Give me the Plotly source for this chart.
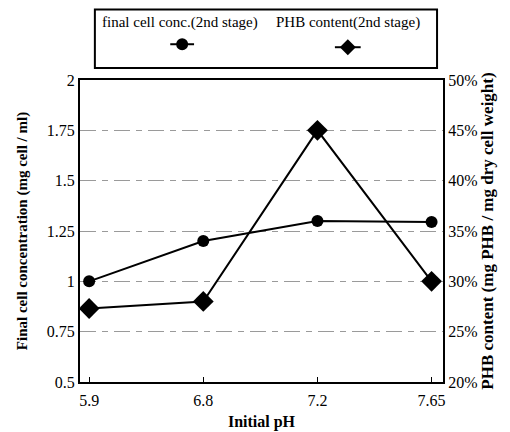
import plotly.graph_objects as go

ph_labels = ["5.9", "6.8", "7.2", "7.65"]
cell_conc = [1.0, 1.2, 1.3, 1.295]
phb_content = [27.3, 28.0, 45.0, 30.0]

left_ticks = [0.5, 0.75, 1.0, 1.25, 1.5, 1.75, 2.0]
left_tick_text = ["0.5", "0.75", "1", "1.25", "1.5", "1.75", "2"]
right_ticks = [20, 25, 30, 35, 40, 45, 50]
right_tick_text = ["20%", "25%", "30%", "35%", "40%", "45%", "50%"]

legend_names = ["final cell conc.(2nd stage)", "PHB content(2nd stage)"]

FONT = "Liberation Serif"
OFF = 8  # page body margin
W, H = 510, 432
# plot area in screen pixels
SX0, SX1, SY0, SY1 = 77, 443, 80, 384
L, R = SX0 - OFF, W - (SX1 - OFF)
T, B = SY0 - OFF, H - (SY1 - OFF)
PW, PH = W - L - R, H - T - B


def px_x(x):
    return (x - OFF - L) / PW


def px_y(y):
    return (H - B - (y - OFF)) / PH


fig = go.Figure()
fig.add_trace(go.Scatter(
    x=ph_labels, y=cell_conc, mode="lines+markers", name=legend_names[0],
    line=dict(color="black", width=2),
    marker=dict(symbol="circle", size=12, color="black"),
    showlegend=False, yaxis="y",
))
fig.add_trace(go.Scatter(
    x=ph_labels, y=phb_content, mode="lines+markers", name=legend_names[1],
    line=dict(color="black", width=2),
    marker=dict(symbol="diamond", size=16, color="black"),
    showlegend=False, yaxis="y2",
))

grid = dict(gridcolor="#9a9a9a", gridwidth=1, griddash="16px,6px,6px,6px")

fig.update_layout(
    width=W, height=H,
    margin=dict(l=L, r=R, t=T, b=B),
    plot_bgcolor="white", paper_bgcolor="white",
    font=dict(family=FONT, size=16, color="black"),
    xaxis=dict(
        type="category", range=[-0.08, 3.1],
        showline=True, linecolor="black", linewidth=2, mirror=True,
        ticks="inside", ticklen=5, tickcolor="black",
        ticklabelstandoff=3,
        showgrid=False, zeroline=False,
        tickfont=dict(family=FONT, size=16),
        title=dict(text="<b>Initial pH</b>", font=dict(family=FONT, size=16), standoff=8),
    ),
    yaxis=dict(
        range=[0.5, 2.0], tickvals=left_ticks, ticktext=left_tick_text,
        showline=True, linecolor="black", linewidth=2,
        ticks="", zeroline=False, showgrid=True, **grid,
        tickfont=dict(family=FONT, size=16),
        title=dict(text="<b>Final cell concentration (mg cell / ml)</b>",
                   font=dict(family=FONT, size=15), standoff=16),
    ),
    yaxis2=dict(
        overlaying="y", side="right", range=[20, 50],
        tickvals=right_ticks, ticktext=right_tick_text,
        showline=True, linecolor="black", linewidth=2,
        ticks="", zeroline=False, showgrid=False,
        tickfont=dict(family=FONT, size=16),
        title=dict(text="<b>PHB content (mg PHB / mg dry cell weight)</b>",
                   font=dict(family=FONT, size=17), standoff=5),
    ),
)

# custom legend box (text above, symbol below)
shapes = [
    dict(type="rect", xref="paper", yref="paper",
         x0=px_x(92), x1=px_x(437), y0=px_y(68), y1=px_y(9),
         line=dict(color="black", width=2), fillcolor="white"),
    dict(type="line", xref="paper", yref="paper",
         x0=px_x(168), x1=px_x(192), y0=px_y(44), y1=px_y(44),
         line=dict(color="black", width=2)),
    dict(type="circle", xref="paper", yref="paper",
         xsizemode="pixel", ysizemode="pixel",
         xanchor=px_x(180), yanchor=px_y(44),
         x0=-6, x1=6, y0=-6, y1=6,
         fillcolor="black", line=dict(color="black", width=0)),
    dict(type="line", xref="paper", yref="paper",
         x0=px_x(334), x1=px_x(360), y0=px_y(47), y1=px_y(47),
         line=dict(color="black", width=2)),
    dict(type="path", xref="paper", yref="paper",
         xsizemode="pixel", ysizemode="pixel",
         xanchor=px_x(347), yanchor=px_y(47),
         path="M -8 0 L 0 8 L 8 0 L 0 -8 Z",
         fillcolor="black", line=dict(color="black", width=0)),
]
fig.update_layout(shapes=shapes)

fig.add_annotation(text=legend_names[0], xref="paper", yref="paper",
                   x=px_x(178), y=px_y(22), showarrow=False,
                   xanchor="center", yanchor="middle",
                   font=dict(family=FONT, size=15))
fig.add_annotation(text=legend_names[1], xref="paper", yref="paper",
                   x=px_x(347), y=px_y(22), showarrow=False,
                   xanchor="center", yanchor="middle",
                   font=dict(family=FONT, size=15))

fig.write_html("out.html")
